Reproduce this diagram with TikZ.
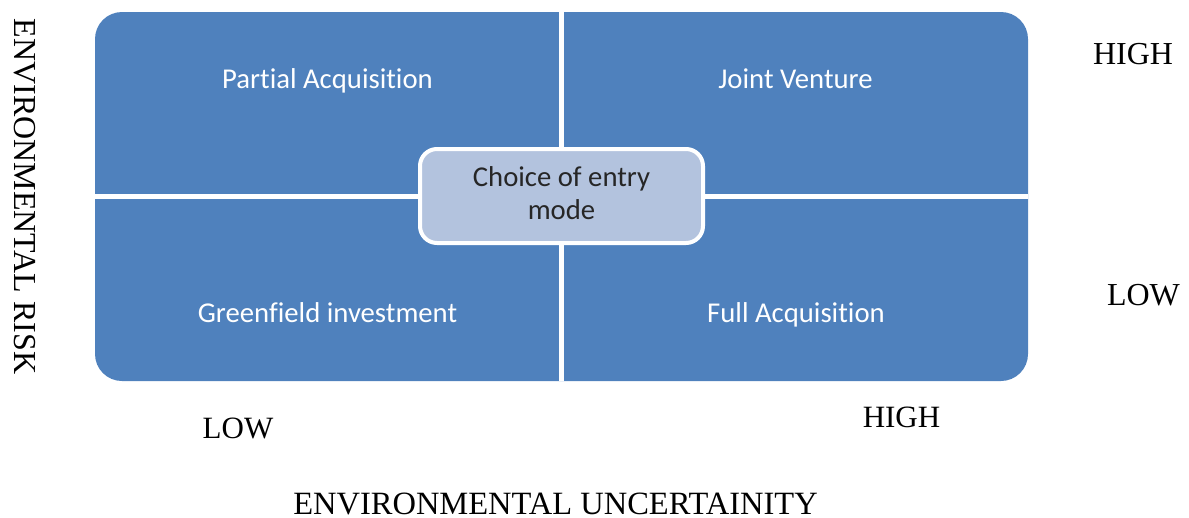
\documentclass[tikz,border=0pt]{standalone}
\usepackage{fontspec}
\setmainfont{Liberation Serif}
\newfontfamily\calibri[Ligatures=NoCommon]{Carlito}
\definecolor{quadblue}{HTML}{4F81BD}
\definecolor{modefill}{HTML}{B3C3DE}
\definecolor{modetext}{HTML}{262626}

\begin{document}
\begin{tikzpicture}[x=1pt, y=-1pt]
\tikzstyle{quad}=[font=\calibri\fontsize{28.7}{33}\selectfont, text=white, anchor=base]
\tikzstyle{rating}=[font=\fontsize{32}{36}\selectfont, anchor=base, inner sep=0pt]
    \useasboundingbox (0,0) rectangle (1189,517);
    \node [fill=quadblue, rounded corners=27pt, minimum width=933pt, minimum height=369pt, inner sep=0pt] (panel) at (561.5,196.5) {};
    \draw [white, line width=5.4pt] (panel.north) -- (panel.south);
    \draw [white, line width=5.4pt] (panel.west) -- (panel.east);
    \node [quad] (pa) at (327.5,88) {Partial Acquisition};
    \node [quad] (jv) at (795.5,88) {Joint Venture};
    \node [quad] (gi) at (327.5,322) {Greenfield investment};
    \node [quad] (fa) at (796,322) {Full Acquisition};
    \node [draw=white, line width=4pt, fill=modefill, rounded corners=17pt, minimum width=283pt, minimum height=94pt,
        text=modetext, align=center, font=\calibri\fontsize{28.7}{33}\selectfont, text depth=6.5pt] (mode) at (561.5,196) {Choice of entry\\mode};
    \node [rating] (rhigh) at (1133,64) {HIGH};
    \node [rating] (rlow) at (1143.5,305) {LOW};
    \node [rating, font=\fontsize{31}{36}\selectfont] (ulow) at (238,438) {LOW};
    \node [rating, font=\fontsize{31}{36}\selectfont] (uhigh) at (901.5,427) {HIGH};
    \node [rating, font=\fontsize{32.5}{36}\selectfont] (unc) at (555.5,514) {ENVIRONMENTAL UNCERTAINITY};
    \node [rating, rotate=-90] (risk) at (14,196.5) {ENVIRONMENTAL RISK};
\end{tikzpicture}
\end{document}
